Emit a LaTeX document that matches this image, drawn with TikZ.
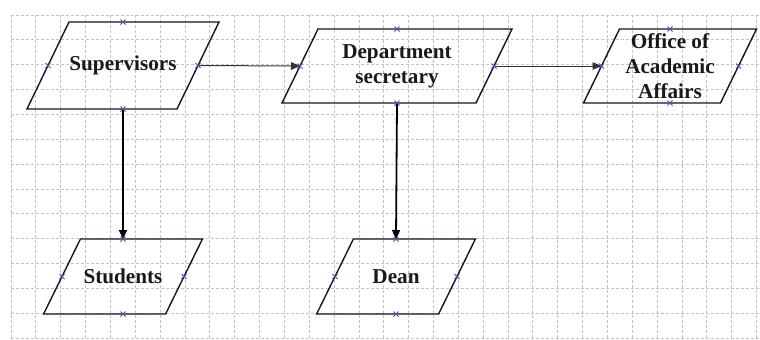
\documentclass[tikz,border=0pt]{standalone}
\usepackage{fontspec}
\setmainfont{Liberation Serif}
\usetikzlibrary{arrows.meta}
\definecolor{gridc}{RGB}{195,195,195}
\definecolor{markc}{RGB}{80,80,160}
\definecolor{linec}{RGB}{20,20,40}

\begin{document}
\begin{tikzpicture}[x=0.5pt,y=-0.5pt,
  para/.style={inner sep=0pt,outer sep=0pt,align=center,text=black!90,
    font=\fontsize{10.6}{12.5}\selectfont\bfseries},
  paraline/.style={draw=linec,line width=0.7pt,line join=miter},
  thinarrow/.style={draw=black!80,line width=0.5pt,-{Triangle[length=4.5pt,width=3.8pt]}},
  thickarrow/.style={draw=black,line width=0.9pt,-{Triangle[length=4.5pt,width=4pt]}},
  gridline/.style={draw=gridc,line width=0.4pt,dash pattern=on 1.5pt off 1pt}]
\useasboundingbox (0,0) rectangle (760,339);
% grid
\foreach \k in {0,...,30}
  \draw[gridline] ({11+24.85*\k},15) -- ({11+24.85*\k},339);
\foreach \k in {0,...,13}
  \draw[gridline] (11,{15+24.85*\k}) -- (760,{15+24.85*\k});
% boxes
\node[para,minimum width=75pt,minimum height=43.5pt] (sup) at (123,65.5) {Supervisors};
\node[para,minimum width=97pt,minimum height=37pt] (dep) at (397,66) {Department\\secretary};
\node[para,minimum width=68.5pt,minimum height=37pt] (oaa) at (670,66) {Office of\\Academic\\Affairs};
\node[para,minimum width=61pt,minimum height=37.5pt] (stu) at (123,276.5) {Students};
\node[para,minimum width=61pt,minimum height=37.5pt] (dean) at (396,276.5) {Dean};
% slanted outlines
\foreach \n/\d in {sup/10.5pt,dep/9pt,oaa/9pt,stu/9.2pt,dean/9.2pt}
  \draw[paraline] ([xshift=\d]\n.north west) -- ([xshift=\d]\n.north east)
    -- ([xshift=-\d]\n.south east) -- ([xshift=-\d]\n.south west) -- cycle;
% connectors
\draw[thinarrow] (sup.east) -- (dep.west);
\draw[thinarrow] (dep.east) -- (oaa.west);
\draw[thickarrow] (sup.south) -- (stu.north);
\draw[thickarrow] (dep.south) -- (dean.north);
% connection points
\foreach \n in {sup,dep,oaa,stu,dean}
  \foreach \a in {north,south,west,east}
    \draw[markc,line width=0.4pt] (\n.\a) +(-2.5,-2.5) -- +(2.5,2.5) +(-2.5,2.5) -- +(2.5,-2.5);
\end{tikzpicture}
\end{document}
